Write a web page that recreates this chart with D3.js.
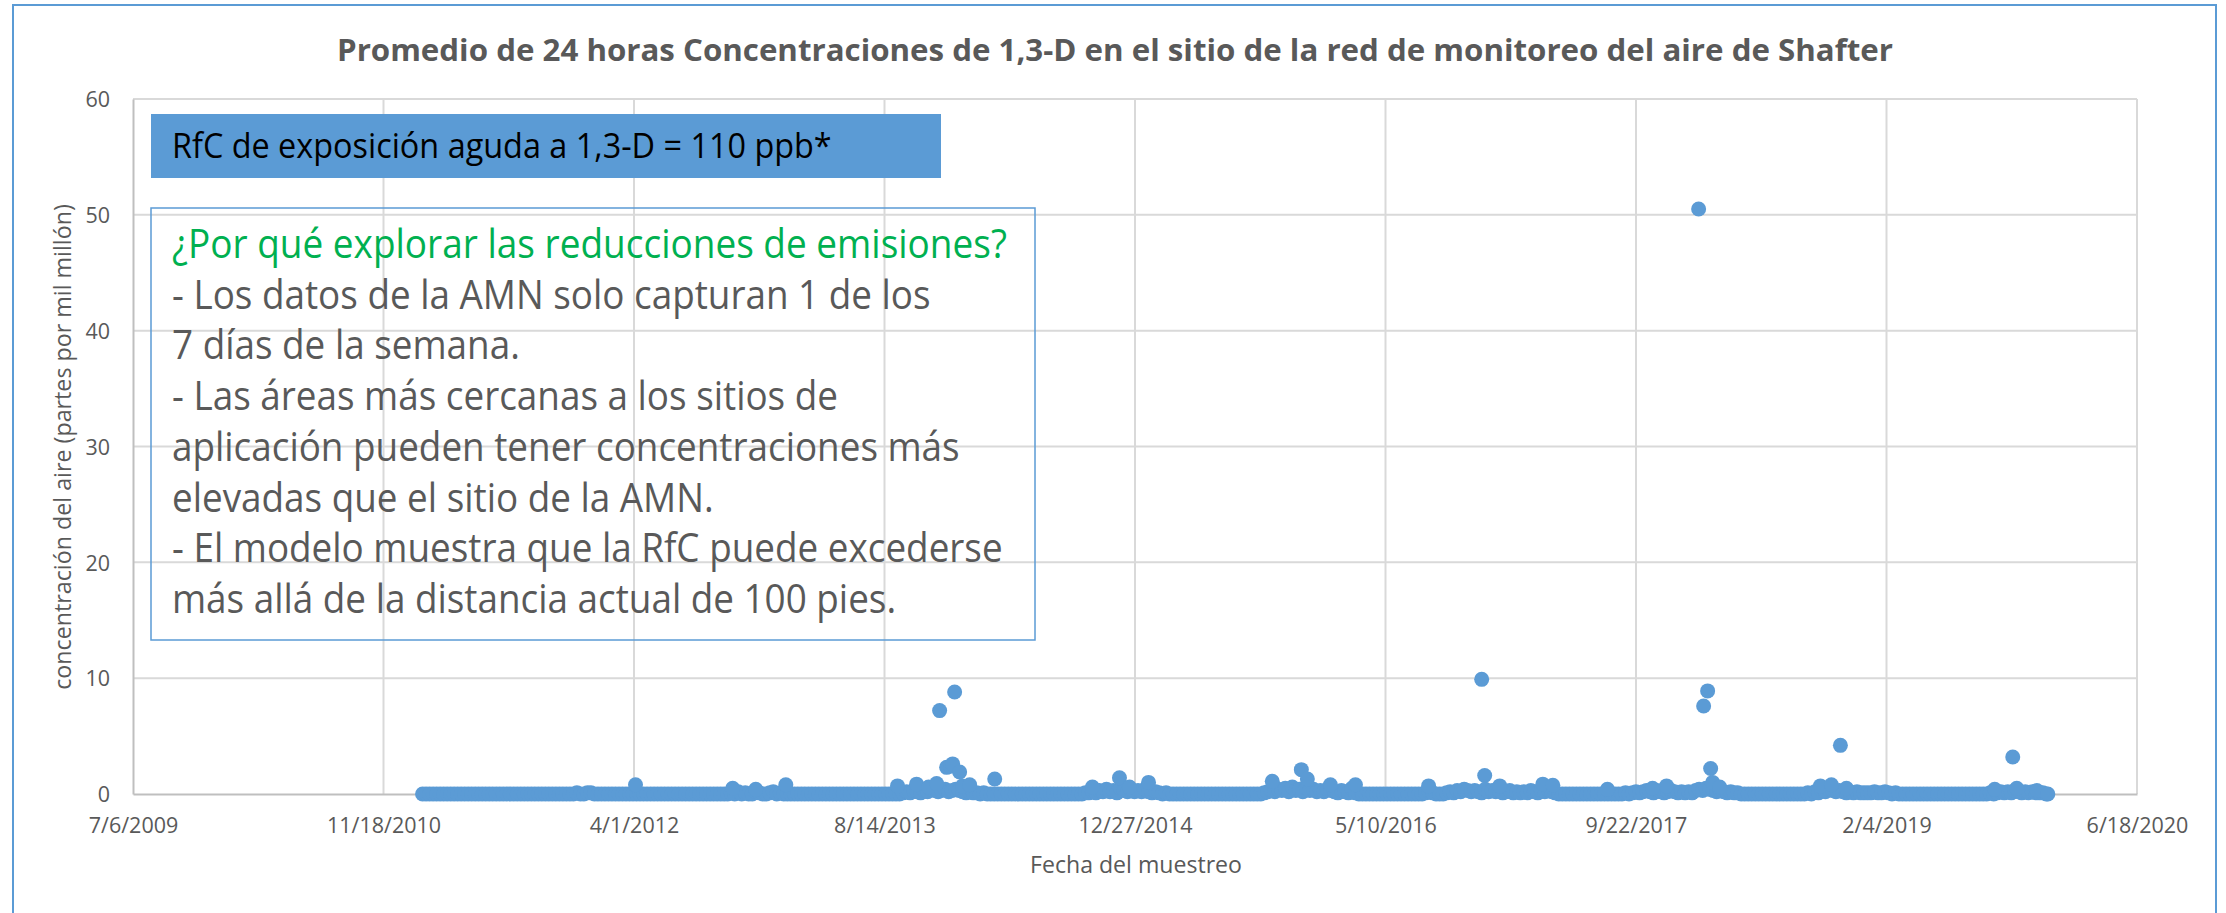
<!DOCTYPE html>
<html>
<head>
<meta charset="utf-8">
<script src="https://cdn.jsdelivr.net/npm/d3@7"></script>
<style>
	body { margin: 0; background: #fff; }
	svg { display: block; font-family: 'Open Sans', sans-serif; }
</style>
</head>
<body>
<svg class="chart" width="2226" height="913"></svg>
<script>
// DATA
var chartTitle = 'Promedio de 24 horas Concentraciones de 1,3-D en el sitio de la red de monitoreo del aire de Shafter';
var yTitle = 'concentración del aire (partes por mil millón)';
var xTitle = 'Fecha del muestreo';
var yTicks = [0, 10, 20, 30, 40, 50, 60];
var xTickLabels = ['7/6/2009', '11/18/2010', '4/1/2012', '8/14/2013', '12/27/2014', '5/10/2016', '9/22/2017', '2/4/2019', '6/18/2020'];
var rfcLabel = 'RfC de exposición aguda a 1,3-D = 110 ppb*';
var noteHeading = '¿Por qué explorar las reducciones de emisiones?';
var noteLines = [
	'- Los datos de la AMN solo capturan 1 de los',
	'7 días de la semana.',
	'- Las áreas más cercanas a los sitios de',
	'aplicación pueden tener concentraciones más',
	'elevadas que el sitio de la AMN.',
	'- El modelo muestra que la RfC puede excederse',
	'más allá de la distancia actual de 100 pies.'
];

// weekly samples (1 in 7 days), first one on this date
var firstSample = '2011-02-04';
var values2011 = [0,0,0,0,0,0,0,0,0,0,0,0,
	0,0,0,0,0,0,0,0,0,0,0,0,
	0,0,0,0,0,0,0,0,0,0,0,0,
	0,0,0,0,0,0,0,0,0.1,0,0,0.1];
var values2012 = [0.1,0,0,0,0,0,0,0,0,0,0,0,0,
	0,0,0,0,0,0,0,0,0,0,0,0,0,
	0,0,0,0,0,0,0,0,0,0,0,0,0,
	0,0.1,0,0.2,0,0.1,0,0,0.2,0.1,0,0,0.1];
var values2013 = [0.2,0,0.1,0,0,0,0,0,0,0,0,0,0,
	0,0,0,0,0,0,0,0,0,0,0,0,0,
	0,0,0,0,0,0,0,0,0,0,0,0.1,0.2,
	0.1,0.3,0.2,0.1,0.3,0.2,0.4,0.3,0.2,0.3,0.4,0.2,0.3];
var values2014 = [0.4,0.3,0.2,0.1,0.2,0.1,0.1,0,0.1,0,0,0,0,
	0,0,0,0,0,0,0,0,0,0,0,0,0,
	0,0,0,0,0,0,0,0,0,0,0,0.1,0.1,
	0.2,0.1,0.3,0.2,0.4,0.2,0.3,0.1,0.5,0.3,0.2,0.3,0.2];
var values2015 = [0.3,0.2,0.4,0.2,0.1,0.2,0.1,0,0.1,0,0,0,0,
	0,0,0,0,0,0,0,0,0,0,0,0,0,
	0,0,0,0,0,0,0,0,0,0,0.1,0.2,0.3,
	0.2,0.4,0.3,0.5,0.2,0.6,0.3,0.4,0.2,0.5,0.3,0.4,0.2];
var values2016 = [0.3,0.2,0.4,0.3,0.2,0.1,0.3,0.2,0.1,0.5,0.1,0,0,
	0,0,0,0,0,0,0,0,0,0,0,0,0,
	0,0,0,0,0.1,0.2,0.1,0,0,0,0.1,0.2,0.1,
	0.3,0.2,0.4,0.3,0.2,0.3,0.2,0.1,0.4,0.2,0.3,0.2,0.3,0.1];
var values2017 = [0.2,0.3,0.1,0.2,0.1,0.2,0.1,0.3,0.2,0.1,0.3,0.2,0.4,
	0.2,0.1,0,0,0,0,0,0,0,0,0,0,0,
	0,0,0,0,0,0,0,0,0.1,0,0.1,0.2,0.1,
	0.2,0.3,0.2,0.1,0.3,0.2,0.1,0.2,0.3,0.2,0.1,0.2,0.1];
var values2018 = [0.2,0.1,0.3,0.4,0.3,0.5,0.4,0.3,0.2,0.3,0.2,0.1,0.2,
	0.1,0.1,0,0,0,0,0,0,0,0,0,0,0,
	0,0,0,0,0,0,0,0,0.1,0,0.2,0.1,0.3,
	0.2,0.4,0.3,0.2,0.3,0.2,0.1,0.2,0.1,0.2,0.1,0.1,0.1];
var values2019 = [0.1,0.2,0.1,0.1,0.2,0.1,0,0.1,0,0,0,0,0,
	0,0,0,0,0,0,0,0,0,0,0,0,0,
	0,0,0,0,0,0,0,0,0.1,0,0.1,0.2,0.1,
	0.2,0.1,0.3,0.2,0.1,0.2,0.1,0.2,0.1,0.1,0.1,0];

// extra sampling days with raised readings
var peakDates = ['2012-04-04','2012-10-15','2012-11-30','2013-01-29','2013-09-09','2013-10-17','2013-11-10','2013-11-26',
	'2013-12-02','2013-12-16','2013-12-24','2013-12-28','2014-01-01','2014-01-11','2014-01-17','2014-01-31','2014-03-22',
	'2014-10-03','2014-11-26','2014-12-16','2015-01-23','2015-09-27','2015-11-24','2015-12-06','2016-01-21','2016-03-11',
	'2016-08-04','2016-11-18','2016-11-24','2016-12-24','2017-03-20','2017-04-09','2017-07-27','2017-10-25','2017-11-22',
	'2018-01-25','2018-02-04','2018-02-12','2018-02-18','2018-02-22','2018-03-08','2018-09-25','2018-10-17','2018-11-04',
	'2018-11-16','2019-09-08','2019-10-14','2019-10-22','2019-12-01','2019-12-23'];
var peakValues = [0.8,0.5,0.4,0.8,0.7,0.85,0.6,0.9,
	7.2,2.3,2.4,2.6,8.8,1.9,0.7,0.8,1.3,
	0.6,1.4,0.6,1.0,1.1,2.1,1.3,0.8,0.8,
	0.7,9.9,1.6,0.7,0.85,0.75,0.4,0.5,0.7,
	50.5,7.6,8.9,2.2,1.0,0.6,0.7,0.8,4.2,
	0.5,0.4,3.2,0.5,0.3,0.0];

(function() {

	//VARS
	var svg = d3.select('.chart');
	var plot = { left: 133, right: 2137, top: 99, bottom: 794 };
	var scales = {};
	var parseDay = d3.timeParse('%Y-%m-%d');
	var parseTick = d3.timeParse('%m/%d/%Y');
	var textColor = '#595959';
	var blue = '#5B9BD5';
	var samples = [];

	function buildSamples() {
		var weekly = [].concat(values2011, values2012, values2013, values2014, values2015,
			values2016, values2017, values2018, values2019);
		var start = parseDay(firstSample);
		weekly.forEach(function(v, i) {
			samples.push({ date: d3.timeDay.offset(start, 7 * i), value: v });
		});
		peakDates.forEach(function(d, i) {
			samples.push({ date: parseDay(d), value: peakValues[i] });
		});
	}

	function setupScales() {
		var tickDates = xTickLabels.map(parseTick);
		scales.tickDates = tickDates;
		scales.x = d3.scaleTime()
			.domain([tickDates[0], tickDates[tickDates.length - 1]])
			.range([plot.left, plot.right]);
		scales.y = d3.scaleLinear()
			.domain([0, 60])
			.range([plot.bottom, plot.top]);
	}

	// shrink / grow font so the text takes the given width
	function fitWidth(sel, target) {
		var w = sel.node().getComputedTextLength();
		var fs = parseFloat(sel.style('font-size'));
		var size = fs * target / w;
		sel.style('font-size', size + 'px');
		return size;
	}

	// Calibri is narrower than Open Sans: make glyphs taller, keep the width
	function tallen(sel, k) {
		sel.each(function() {
			var t = d3.select(this);
			var w = this.getComputedTextLength();
			var fs = parseFloat(t.style('font-size'));
			t.style('font-size', (fs * k) + 'px')
				.attr('textLength', w)
				.attr('lengthAdjust', 'spacingAndGlyphs');
		});
	}

	function drawFrame() {
		svg.append('rect')
			.attr('x', 13).attr('y', 5)
			.attr('width', 2203).attr('height', 1000)
			.attr('fill', '#fff')
			.attr('stroke', blue)
			.attr('stroke-width', 2);

		svg.append('text')
			.attr('x', 1115).attr('y', 61)
			.attr('text-anchor', 'middle')
			.attr('fill', textColor)
			.style('font-size', '31px')
			.style('font-weight', 'bold')
			.attr('textLength', 1556)
			.attr('lengthAdjust', 'spacingAndGlyphs')
			.text(chartTitle);
	}

	function drawGrid() {
		var g = svg.append('g').attr('class', 'grid');

		g.selectAll('.hgrid')
			.data(yTicks.filter(function(d) { return d > 0; }))
			.enter().append('line')
			.attr('x1', plot.left).attr('x2', plot.right)
			.attr('y1', function(d) { return scales.y(d); })
			.attr('y2', function(d) { return scales.y(d); })
			.attr('stroke', '#D9D9D9')
			.attr('stroke-width', 2);

		g.selectAll('.vgrid')
			.data(scales.tickDates.slice(1))
			.enter().append('line')
			.attr('x1', function(d) { return scales.x(d); })
			.attr('x2', function(d) { return scales.x(d); })
			.attr('y1', plot.top).attr('y2', plot.bottom)
			.attr('stroke', '#D9D9D9')
			.attr('stroke-width', 2);
	}

	function drawAxes() {
		var xAxis = svg.append('g')
			.attr('class', 'axis axis--x')
			.attr('transform', 'translate(0,' + plot.bottom + ')')
			.call(d3.axisBottom(scales.x)
				.tickValues(scales.tickDates)
				.tickFormat(function(d, i) { return xTickLabels[i]; })
				.tickSize(0)
				.tickPadding(0));
		xAxis.select('.domain').attr('stroke', '#BFBFBF').attr('stroke-width', 2);
		xAxis.selectAll('text')
			.attr('y', 39).attr('dy', null)
			.attr('fill', textColor)
			.style('font-size', '21.5px')
			.style('font-family', "'Open Sans', sans-serif");

		var yAxis = svg.append('g')
			.attr('class', 'axis axis--y')
			.attr('transform', 'translate(' + plot.left + ',0)')
			.call(d3.axisLeft(scales.y)
				.tickValues(yTicks)
				.tickSize(0)
				.tickPadding(23));
		yAxis.select('.domain').attr('stroke', '#BFBFBF').attr('stroke-width', 2);
		yAxis.selectAll('text')
			.attr('dy', '0.36em')
			.attr('fill', textColor)
			.style('font-size', '21.5px')
			.style('font-family', "'Open Sans', sans-serif");

		var yt = svg.append('text')
			.attr('transform', 'translate(71,447)rotate(-90)')
			.attr('text-anchor', 'middle')
			.attr('fill', textColor)
			.style('font-size', '21px')
			.text(yTitle);
		fitWidth(yt, 486);

		var xt = svg.append('text')
			.attr('x', 1136).attr('y', 873)
			.attr('text-anchor', 'middle')
			.attr('fill', textColor)
			.style('font-size', '21px')
			.text(xTitle);
		fitWidth(xt, 212);
	}

	function drawNotes() {
		svg.append('rect')
			.attr('x', 151).attr('y', 114)
			.attr('width', 790).attr('height', 64)
			.attr('fill', blue);

		var rfc = svg.append('text')
			.attr('x', 172).attr('y', 158)
			.attr('fill', '#000')
			.style('font-size', '30px')
			.text(rfcLabel);
		fitWidth(rfc, 660);
		tallen(rfc, 1.08);

		svg.append('rect')
			.attr('x', 151).attr('y', 208)
			.attr('width', 884).attr('height', 432)
			.attr('fill', 'none')
			.attr('stroke', blue)
			.attr('stroke-width', 1.5);

		var head = svg.append('text')
			.attr('x', 172).attr('y', 258)
			.attr('fill', '#00B050')
			.style('font-size', '31px')
			.text(noteHeading);
		fitWidth(head, 835);
		tallen(head, 1.08);

		var body = svg.append('g').attr('class', 'note-body');
		var lines = body.selectAll('text')
			.data(noteLines)
			.enter().append('text')
			.attr('x', 172)
			.attr('y', function(d, i) { return 308.7 + i * 50.7; })
			.attr('fill', textColor)
			.style('font-size', '31px')
			.text(function(d) { return d; });

		// size every line from the longest one
		var size = fitWidth(d3.select(lines.nodes()[5]), 831);
		lines.style('font-size', size + 'px');
		tallen(lines, 1.08);
	}

	function drawPoints() {
		svg.append('g').attr('class', 'points')
			.selectAll('circle')
			.data(samples)
			.enter().append('circle')
			.attr('cx', function(d) { return scales.x(d.date); })
			.attr('cy', function(d) { return scales.y(d.value); })
			.attr('r', 7.5)
			.attr('fill', blue);
	}

	function init() {
		buildSamples();
		setupScales();
		drawFrame();
		drawGrid();
		drawAxes();
		drawNotes();
		drawPoints();
	}

	init();
})();
</script>
</body>
</html>
